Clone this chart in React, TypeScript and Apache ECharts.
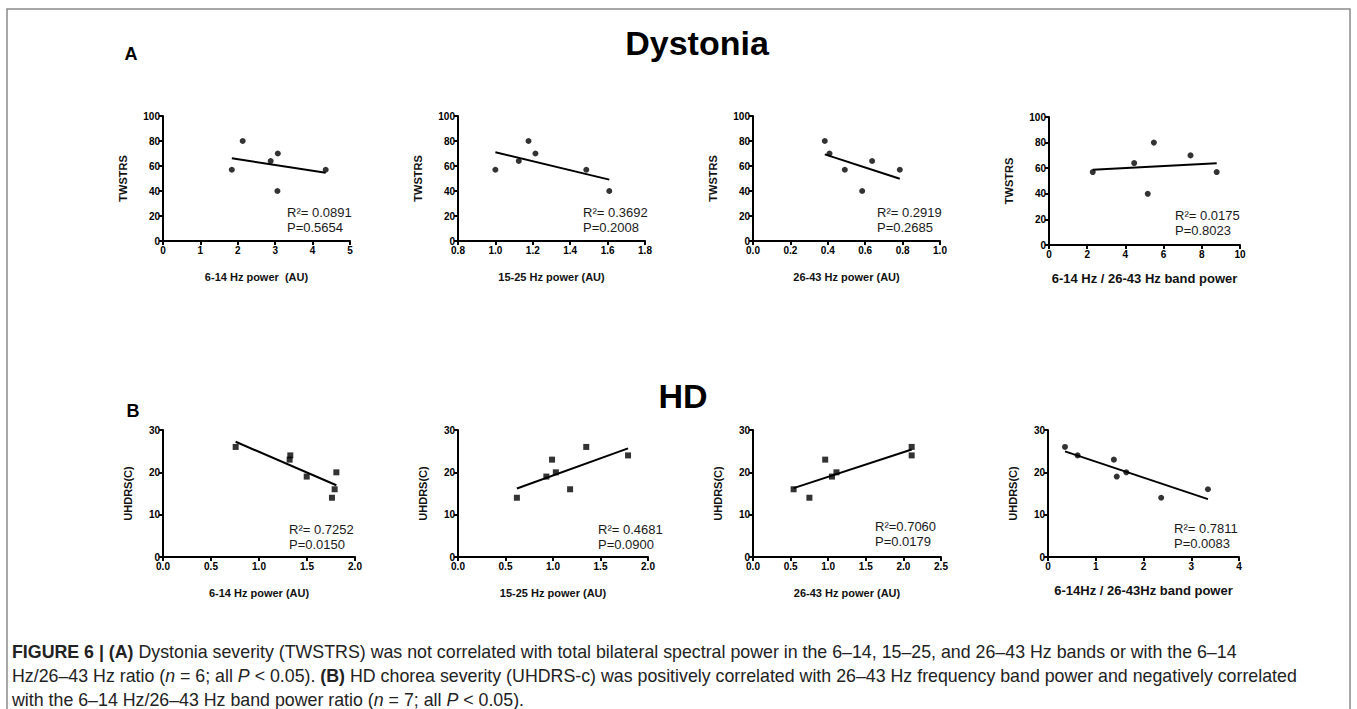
import React, { useEffect, useRef } from "react";
import * as echarts from "echarts";

const FONT = "'Liberation Sans', Arial, Helvetica, sans-serif";

// ---- Data ----
// A: Dystonia (TWSTRS)
const a1X = [1.84, 2.13, 2.88, 3.07, 3.06, 4.35];
const a1Y = [57, 80, 64, 70, 40, 57];
const a2X = [1.0, 1.125, 1.177, 1.214, 1.486, 1.609];
const a2Y = [57, 64, 80, 70, 57, 40];
const a3X = [0.384, 0.409, 0.491, 0.584, 0.637, 0.785];
const a3Y = [80, 70, 57, 40, 64, 57];
const a4X = [2.29, 4.46, 5.17, 5.49, 7.41, 8.78];
const a4Y = [57, 64, 40, 80, 70, 57];
// B: HD (UHDRS(C))
const b1X = [0.757, 1.319, 1.326, 1.497, 1.806, 1.788, 1.76];
const b1Y = [26, 23, 24, 19, 20, 16, 14];
const b2X = [0.62, 0.93, 0.99, 1.03, 1.18, 1.35, 1.79];
const b2Y = [14, 19, 23, 20, 16, 26, 24];
const b3X = [0.54, 0.75, 0.96, 1.05, 1.11, 2.11, 2.11];
const b3Y = [16, 14, 23, 19, 20, 26, 24];
const b4X = [0.356, 0.62, 1.38, 1.44, 1.64, 2.37, 3.35];
const b4Y = [26, 24, 23, 19, 20, 14, 16];

const xNames = [
  "6-14 Hz power  (AU)",
  "15-25 Hz power (AU)",
  "26-43 Hz power (AU)",
  "6-14 Hz / 26-43 Hz band power",
  "6-14 Hz power (AU)",
  "15-25 Hz power (AU)",
  "26-43 Hz power (AU)",
  "6-14Hz / 26-43Hz band power",
];
const yNames = ["TWSTRS", "TWSTRS", "TWSTRS", "TWSTRS", "UHDRS(C)", "UHDRS(C)", "UHDRS(C)", "UHDRS(C)"];
const r2Labels = ["R²= 0.0891", "R²= 0.3692", "R²= 0.2919", "R²= 0.0175", "R²= 0.7252", "R²= 0.4681", "R²=0.7060", "R²= 0.7811"];
const pLabels = ["P=0.5654", "P=0.2008", "P=0.2685", "P=0.8023", "P=0.0150", "P=0.0900", "P=0.0179", "P=0.0083"];
// axis ranges
const xMins = [0, 0.8, 0, 0, 0, 0, 0, 0];
const xMaxs = [5, 1.8, 1, 10, 2, 2, 2.5, 4];
const xIntervals = [1, 0.2, 0.2, 2, 0.5, 0.5, 0.5, 1];
const xDecimals = [0, 1, 1, 0, 1, 1, 1, 0];
const yMaxs = [100, 100, 100, 100, 30, 30, 30, 30];
const yIntervals = [20, 20, 20, 20, 10, 10, 10, 10];
const markers = ["circle", "circle", "circle", "circle", "rect", "rect", "rect", "circle"];

const caption1 = "{b|FIGURE 6 | (A)} Dystonia severity (TWSTRS) was not correlated with total bilateral spectral power in the 6–14, 15–25, and 26–43 Hz bands or with the 6–14";
const caption2 = "Hz/26–43 Hz ratio ({i|n} = 6; all {i|P} < 0.05). {b|(B)} HD chorea severity (UHDRS-c) was positively correlated with 26–43 Hz frequency band power and negatively correlated";
const caption3 = "with the 6–14 Hz/26–43 Hz band power ratio ({i|n} = 7; all {i|P} < 0.05).";

const allX = [a1X, a2X, a3X, a4X, b1X, b2X, b3X, b4X];
const allY = [a1Y, a2Y, a3Y, a4Y, b1Y, b2Y, b3Y, b4Y];

// ---- Layout ----
const grids = [
  { left: 163, top: 116, width: 187, height: 125 },
  { left: 458, top: 116, width: 187, height: 125 },
  { left: 753, top: 116, width: 187, height: 125 },
  { left: 1049, top: 117, width: 191, height: 128 },
  { left: 163, top: 430, width: 192, height: 127 },
  { left: 458, top: 430, width: 190, height: 127 },
  { left: 753, top: 430, width: 188, height: 127 },
  { left: 1048, top: 430, width: 191, height: 127 },
];
const annPos = [
  [287, 214], [583, 214], [877, 214], [1175, 217],
  [289, 531], [598, 531], [875, 528], [1174, 530],
];

function fitLine(xs: number[], ys: number[]) {
  const n = xs.length;
  const mx = xs.reduce((s, v) => s + v, 0) / n;
  const my = ys.reduce((s, v) => s + v, 0) / n;
  let sxy = 0, sxx = 0;
  for (let i = 0; i < n; i++) {
    sxy += (xs[i] - mx) * (ys[i] - my);
    sxx += (xs[i] - mx) * (xs[i] - mx);
  }
  const b = sxy / sxx;
  const a = my - b * mx;
  const x0 = Math.min(...xs), x1 = Math.max(...xs);
  return [[x0, a + b * x0], [x1, a + b * x1]];
}

export default function App() {
  const ref = useRef<HTMLDivElement>(null);
  useEffect(() => {
    if (!ref.current) return;
    const chart = echarts.init(ref.current, undefined, { renderer: "svg" });
    const xAxis: any[] = [];
    const yAxis: any[] = [];
    const series: any[] = [];
    const graphic: any[] = [];
    for (let i = 0; i < 8; i++) {
      const bigName = i === 3 || i === 7;
      const dec = xDecimals[i];
      xAxis.push({
        gridIndex: i, type: "value", min: xMins[i], max: xMaxs[i], interval: xIntervals[i],
        name: xNames[i], nameLocation: "middle", nameGap: bigName ? 27 : 30,
        nameTextStyle: { fontWeight: "bold", fontSize: bigName ? 13 : 11, fontFamily: FONT, color: "#111" },
        axisLine: { show: true, onZero: false, lineStyle: { color: "#000", width: 2 } },
        axisTick: { show: true, length: 4, lineStyle: { color: "#000", width: 2 } },
        axisLabel: { fontSize: 10, fontWeight: "bold", color: "#000", fontFamily: FONT, margin: 4,
          formatter: (v: number) => v.toFixed(dec) },
        splitLine: { show: false },
      });
      yAxis.push({
        gridIndex: i, type: "value", min: 0, max: yMaxs[i], interval: yIntervals[i],
        name: yNames[i], nameLocation: "middle", nameGap: i < 4 ? 35 : 30,
        nameTextStyle: { fontWeight: "bold", fontSize: 11, fontFamily: FONT, color: "#111" },
        axisLine: { show: true, onZero: false, lineStyle: { color: "#000", width: 2 } },
        axisTick: { show: true, length: 4, lineStyle: { color: "#000", width: 2 } },
        axisLabel: { fontSize: 10, fontWeight: "bold", color: "#000", fontFamily: FONT, margin: 3 },
        splitLine: { show: false },
      });
      series.push({
        type: "scatter", xAxisIndex: i, yAxisIndex: i, symbol: markers[i], symbolSize: 6,
        itemStyle: { color: "#000" },
        data: allX[i].map((x, j) => [x, allY[i][j]]),
      });
      series.push({
        type: "line", xAxisIndex: i, yAxisIndex: i, symbol: "none",
        lineStyle: { color: "#000", width: 2 },
        data: fitLine(allX[i], allY[i]),
      });
      graphic.push({
        type: "text", left: annPos[i][0], top: annPos[i][1] - 8,
        style: { text: r2Labels[i], fill: "#1a1a1a", fontSize: 13, fontFamily: FONT },
      });
      graphic.push({
        type: "text", left: annPos[i][0], top: annPos[i][1] + 7,
        style: { text: pLabels[i], fill: "#1a1a1a", fontSize: 13, fontFamily: FONT },
      });
    }
    // frame
    graphic.push({
      type: "polyline", shape: { points: [[7, 709], [7, 9], [1350, 9], [1350, 709]] },
      style: { stroke: "#8a8a8a", lineWidth: 1.5, fill: "none" },
    });
    graphic.push({ type: "text", x: 131, y: 54, style: { text: "A", fontSize: 18, fontWeight: "bold", fontFamily: FONT, fill: "#000", align: "center", verticalAlign: "middle" } });
    graphic.push({ type: "text", x: 133, y: 411, style: { text: "B", fontSize: 18, fontWeight: "bold", fontFamily: FONT, fill: "#000", align: "center", verticalAlign: "middle" } });
    graphic.push({ type: "text", x: 697, y: 43, style: { text: "Dystonia", fontSize: 34, fontWeight: "bold", fontFamily: FONT, fill: "#000", align: "center", verticalAlign: "middle" } });
    graphic.push({ type: "text", x: 683, y: 396, style: { text: "HD", fontSize: 34, fontWeight: "bold", fontFamily: FONT, fill: "#000", align: "center", verticalAlign: "middle" } });
    const CAP = 17.8;
    const rich = {
      b: { fontWeight: "bold", fontSize: CAP, fontFamily: FONT, fill: "#222" },
      i: { fontStyle: "italic", fontSize: CAP, fontFamily: FONT, fill: "#222" },
    };
    [caption1, caption2, caption3].forEach((t, k) => {
      graphic.push({
        type: "text", x: 12, y: 652 + k * 24,
        style: { text: t, rich, fontSize: CAP, fontFamily: FONT, fill: "#222", verticalAlign: "middle" },
      });
    });

    chart.setOption({
      animation: false,
      backgroundColor: "#fff",
      grid: grids.map((g) => ({ ...g, containLabel: false })),
      xAxis, yAxis, series, graphic,
    });
    return () => chart.dispose();
  }, []);
  return <div ref={ref} style={{ position: "fixed", left: 0, top: 0, width: 1357, height: 709 }} />;
}
